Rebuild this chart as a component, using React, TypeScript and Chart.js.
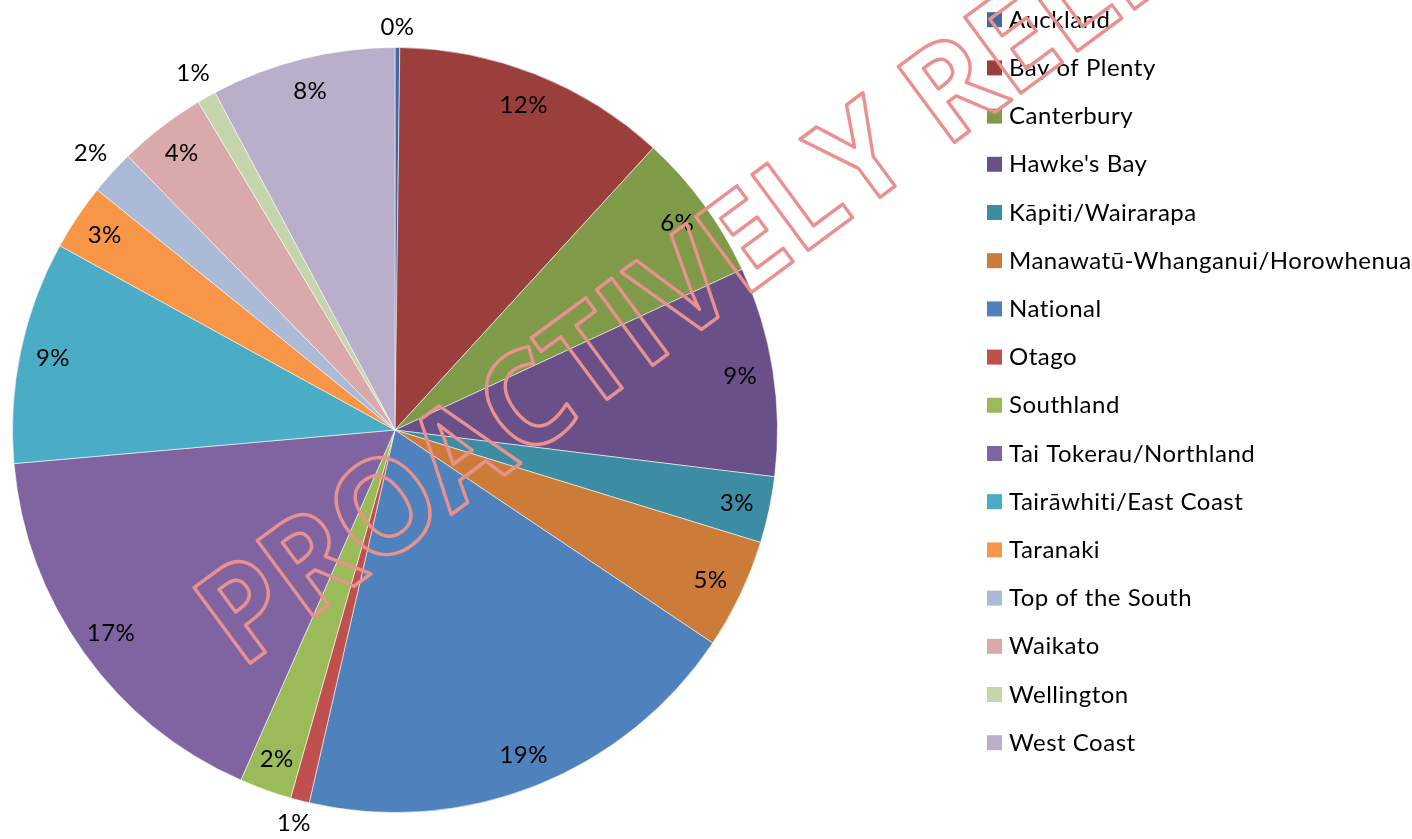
import React, { useEffect, useRef } from "react";
import { Chart, registerables } from "chart.js";

Chart.register(...registerables);

const categories = [
  "Auckland",
  "Bay of Plenty",
  "Canterbury",
  "Hawke's Bay",
  "Kāpiti/Wairarapa",
  "Manawatū-Whanganui/Horowhenua",
  "National",
  "Otago",
  "Southland",
  "Tai Tokerau/Northland",
  "Tairāwhiti/East Coast",
  "Taranaki",
  "Top of the South",
  "Waikato",
  "Wellington",
  "West Coast",
];

const shares = [0.2, 11.6, 6.3, 8.85, 2.8, 4.65, 19.2, 0.8, 2.2, 17.0, 9.4, 2.8, 1.9, 3.7, 0.8, 7.8];

const sliceColors = [
  "#3F6BA5",
  "#9B3F3D",
  "#7F9A48",
  "#6A5089",
  "#3C8CA3",
  "#CC7B38",
  "#4F81BD",
  "#C0504D",
  "#9BBB59",
  "#8064A2",
  "#4BACC6",
  "#F79646",
  "#AABAD7",
  "#D9AAA9",
  "#C6D6AC",
  "#B9AFCB",
];

const watermarkText = "PROACTIVELY RELEASED";

const FONT = '"Lato", "Open Sans", sans-serif';

const labelPlugin = {
  id: "pctLabels",
  afterDatasetsDraw(chart: any) {
    const ctx = chart.ctx;
    const meta = chart.getDatasetMeta(0);
    const data = chart.data.datasets[0].data as number[];
    const total = data.reduce((a, b) => a + b, 0);
    ctx.save();
    ctx.font = `24px ${FONT}`;
    (ctx as any).letterSpacing = "0.4px";
    ctx.fillStyle = "#000";
    ctx.textAlign = "center";
    ctx.textBaseline = "middle";
    meta.data.forEach((arc: any, i: number) => {
      const p = arc.getProps(["x", "y", "startAngle", "endAngle", "outerRadius"], true);
      const mid = (p.startAngle + p.endAngle) / 2;
      const pctRaw = (data[i] / total) * 100;
      const txt = Math.round(pctRaw) + "%";
      const w = ctx.measureText(txt).width;
      let r: number;
      if (pctRaw < 2) {
        r = p.outerRadius + 9 + Math.abs(Math.cos(mid)) * (w / 2) + Math.abs(Math.sin(mid)) * 11;
      } else {
        r = p.outerRadius - 33;
      }
      ctx.fillText(txt, p.x + r * Math.cos(mid), p.y + r * Math.sin(mid));
    });
    ctx.restore();
  },
};

const legendPlugin = {
  id: "sideLegend",
  afterDraw(chart: any) {
    const ctx = chart.ctx;
    const labels = chart.data.labels as string[];
    const bg = chart.data.datasets[0].backgroundColor as string[];
    ctx.save();
    ctx.font = `24px ${FONT}`;
    (ctx as any).letterSpacing = "0.5px";
    ctx.textAlign = "left";
    ctx.textBaseline = "alphabetic";
    labels.forEach((lab, i) => {
      const cy = 19.7 + i * 48.2;
      ctx.fillStyle = bg[i];
      ctx.fillRect(987, cy - 7.5, 15, 15);
      ctx.fillStyle = "#000";
      ctx.fillText(lab, 1009, cy + 8);
    });
    ctx.restore();
  },
};

const watermarkPlugin = {
  id: "watermark",
  afterDraw(chart: any) {
    const ctx = chart.ctx;
    ctx.save();
    ctx.font = `bold 132px "Open Sans", sans-serif`;
    const w = ctx.measureText("PROACTIVELY ").width;
    const sx = 876 / w;
    ctx.translate(241, 670);
    ctx.rotate((-36.5 * Math.PI) / 180);
    ctx.scale(sx, 1);
    ctx.lineJoin = "round";
    ctx.lineWidth = 3.5;
    ctx.strokeStyle = "#E8918E";
    ctx.strokeText(watermarkText, 0, 0);
    ctx.restore();
  },
};

export default function App() {
  const ref = useRef<HTMLCanvasElement | null>(null);
  useEffect(() => {
    document.body.style.margin = "0";
    const canvas = ref.current;
    if (!canvas) return;
    const chart = new Chart(canvas, {
      type: "pie",
      data: {
        labels: categories,
        datasets: [
          {
            data: shares,
            backgroundColor: sliceColors,
            borderColor: "rgba(255,255,255,0.55)",
            borderWidth: 1,
          },
        ],
      },
      options: {
        animation: false,
        responsive: false,
        devicePixelRatio: 1,
        layout: { padding: { left: 12, top: 47, right: 634, bottom: 26 } },
        plugins: {
          legend: { display: false },
          tooltip: { enabled: false },
          title: { display: false },
        },
      },
      plugins: [labelPlugin, legendPlugin, watermarkPlugin],
    });
    return () => chart.destroy();
  }, []);
  return (
    <div style={{ position: "absolute", left: 0, top: 0, width: 1412, height: 839, background: "#fff" }}>
      <canvas ref={ref} width={1412} height={839} style={{ width: 1412, height: 839 }} />
    </div>
  );
}
